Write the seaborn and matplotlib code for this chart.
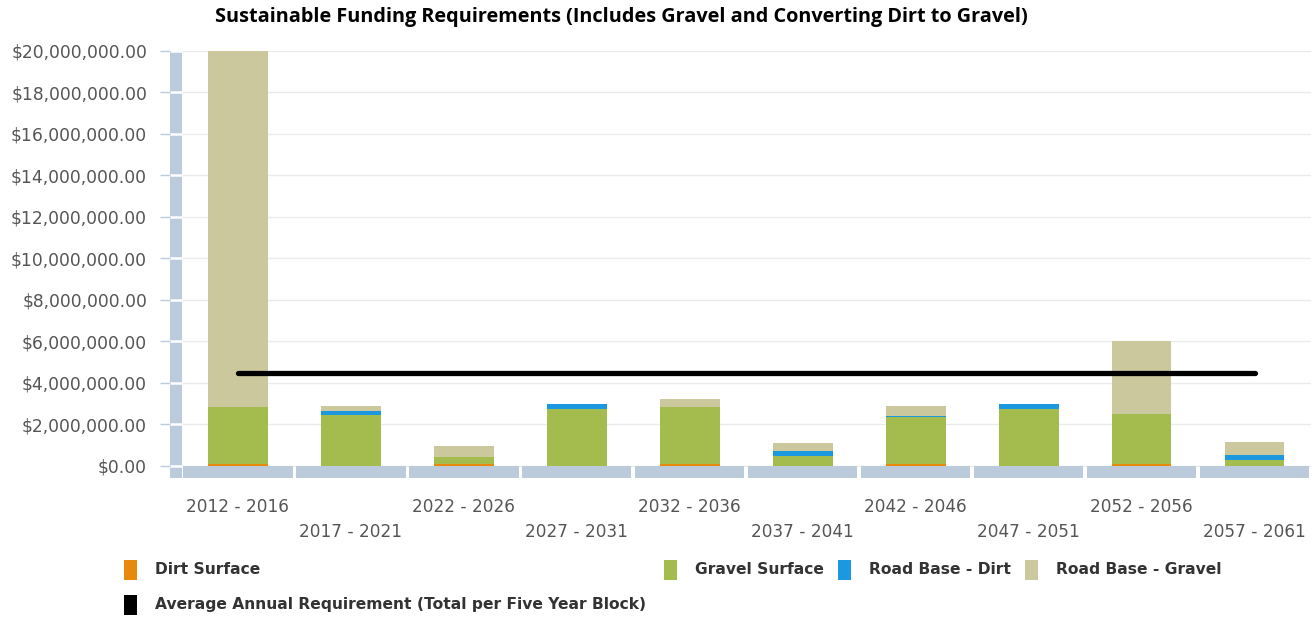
import numpy as np
import matplotlib
matplotlib.use('Agg')
import matplotlib.pyplot as plt
import matplotlib.transforms as mtransforms
from matplotlib.patches import Rectangle
import seaborn as sns

# five year blocks
periods = ['2012 - 2016', '2017 - 2021', '2022 - 2026', '2027 - 2031',
           '2032 - 2036', '2037 - 2041', '2042 - 2046', '2047 - 2051',
           '2052 - 2056', '2057 - 2061']

# funding requirement per block (dollars)
dirt_surface = [100000, 0, 100000, 0, 100000, 0, 100000, 0, 100000, 20000]
gravel_surface = [2750000, 2440000, 310000, 2740000, 2730000, 470000,
                  2280000, 2730000, 2420000, 290000]
road_base_dirt = [0, 210000, 0, 240000, 0, 240000, 20000, 260000, 0, 220000]
road_base_gravel = [17150000, 250000, 550000, 0, 400000, 400000, 480000, 0,
                    3480000, 630000]
avg_annual = [4480000, 4480000, 4480000, 4480000, 4480000, 4480000,
              4480000, 4480000, 4480000, 4480000]

y_ticks = [0, 2000000, 4000000, 6000000, 8000000, 10000000, 12000000,
           14000000, 16000000, 18000000, 20000000]

series = [('Dirt Surface', dirt_surface, '#e8890c'),
          ('Gravel Surface', gravel_surface, '#a4bc4e'),
          ('Road Base - Dirt', road_base_dirt, '#1b98e0'),
          ('Road Base - Gravel', road_base_gravel, '#cbc89d')]

BAND = '#bccbdb'
x_pos = np.arange(len(periods))

sns.set_style('white')
plt.rcParams['font.family'] = ['DejaVu Sans']

fig = plt.figure(figsize=(13.16, 6.17), dpi=100)
ax = fig.add_axes([170 / 1316, 1 - 478 / 617, 1141 / 1316, 427 / 617])

# stacked bars: draw cumulative totals from the top layer down
cum = np.cumsum([s[1] for s in series], axis=0)
for i in range(len(series) - 1, -1, -1):
    sns.barplot(x=x_pos, y=cum[i], color=series[i][2], saturation=1,
                width=0.53, native_scale=True, linewidth=0, ax=ax, zorder=3)

# average annual requirement line
sns.lineplot(x=x_pos, y=avg_annual, color='black', linewidth=3.8,
             solid_capstyle='round', ax=ax, zorder=5)

# segmented x-axis band below zero
ax.bar(x_pos, 580000, bottom=-580000, width=0.97, color=BAND, linewidth=0,
       zorder=2)

x_left = -0.60
ax.set_xlim(x_left, 9.5)
ax.set_ylim(-580000, 20000000)

# segmented y-axis band
ax.axvspan(x_left, -0.49, color=BAND, lw=0, zorder=2)
ax.hlines(y_ticks, x_left, -0.49, colors='white', linewidth=1.8, zorder=2.5)

# grid
for t in y_ticks:
    ax.axhline(t, color='#ebebeb', linewidth=1, zorder=0)

ax.set_yticks(y_ticks)
ax.set_yticklabels(['${:,.2f}'.format(t) for t in y_ticks])
ax.tick_params(axis='y', length=7, width=1, color=BAND, pad=9.5,
               labelsize=12.3, labelcolor='#555555', left=True)
ax.set_xticks([])
ax.set_xlabel('')
sns.despine(ax=ax, left=True, bottom=True)

# staggered category labels
trans = mtransforms.blended_transform_factory(ax.transData, ax.transAxes)
for i, p in enumerate(periods):
    ax.text(i, -0.068 if i % 2 == 0 else -0.127, p, transform=trans,
            ha='center', va='center', fontsize=12.2, color='#555555')

fig.text(0.472, 1 - 17 / 617,
         'Sustainable Funding Requirements (Includes Gravel and Converting '
         'Dirt to Gravel)', ha='center', va='center', fontsize=14.3,
         fontweight='bold', family='Open Sans', color='black')

# legend, laid out like the original
legend_items = [(124, 570, 'Dirt Surface', series[0][2]),
                (664, 570, 'Gravel Surface', series[1][2]),
                (838, 570, 'Road Base - Dirt', series[2][2]),
                (1025, 570, 'Road Base - Gravel', series[3][2]),
                (124, 605, 'Average Annual Requirement (Total per Five Year Block)',
                 'black')]
for px, py, label, c in legend_items:
    fig.add_artist(Rectangle((px / 1316, 1 - (py + 10) / 617), 13 / 1316,
                             20 / 617, transform=fig.transFigure,
                             facecolor=c, edgecolor='none'))
    fig.text((px + 31) / 1316, 1 - py / 617, label, ha='left', va='center',
             fontsize=11.2, fontweight='bold', color='#333333')

fig.savefig('out.png', dpi=100)
